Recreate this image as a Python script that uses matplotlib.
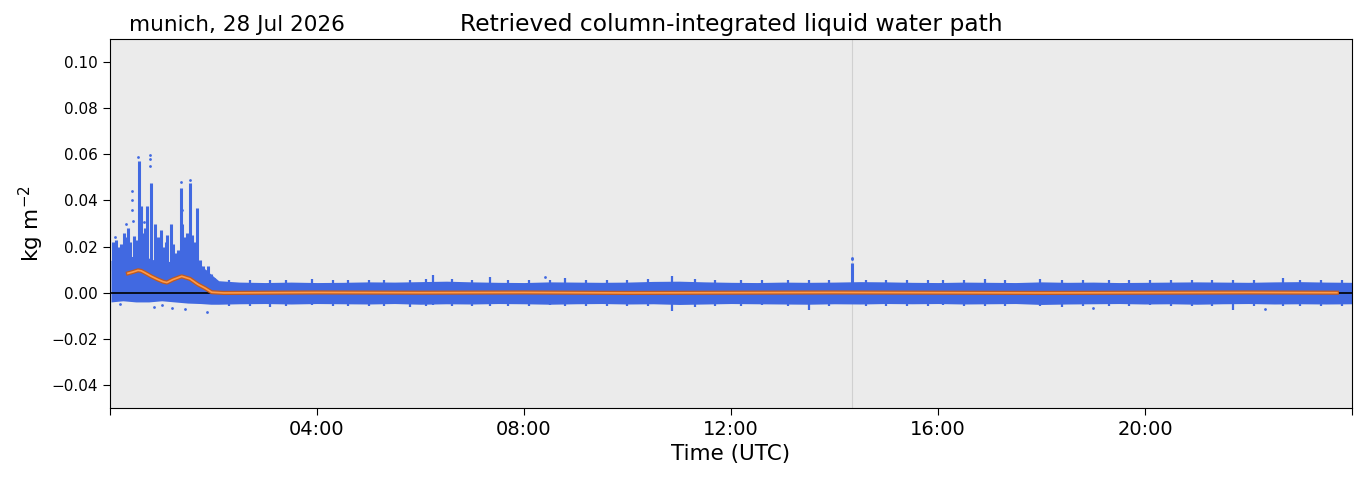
import matplotlib
matplotlib.use('Agg')
import matplotlib.pyplot as plt
import numpy as np

# dense core of the retrievals (hours UTC, kg m-2)
band_hours = [0.02, 0.25, 0.5, 0.75, 1.0, 1.25, 1.5, 1.75, 1.95, 2.1, 2.5, 3.0, 3.5, 4.0, 4.5,
              5.0, 5.5, 6.0, 6.5, 7.0, 7.5, 8.0, 8.5, 9.0, 9.5, 10.0, 10.5, 11.0, 11.5, 12.0,
              12.5, 13.0, 13.5, 14.0, 14.5, 15.0, 15.5, 16.0, 16.5, 17.0, 17.5, 18.0, 18.5,
              19.0, 19.5, 20.0, 20.5, 21.0, 21.5, 22.0, 22.5, 23.0, 23.5, 24.0]
band_hi = [0.014, 0.015, 0.016, 0.015, 0.013, 0.014, 0.015, 0.012, 0.008, 0.0052, 0.0046,
           0.0044, 0.0046, 0.0044, 0.0045, 0.0047, 0.0046, 0.0048, 0.0050, 0.0047, 0.0045,
           0.0044, 0.0047, 0.0046, 0.0045, 0.0046, 0.0049, 0.0050, 0.0047, 0.0045, 0.0044,
           0.0046, 0.0045, 0.0046, 0.0048, 0.0047, 0.0045, 0.0044, 0.0046, 0.0045, 0.0044,
           0.0047, 0.0045, 0.0046, 0.0044, 0.0045, 0.0046, 0.0047, 0.0046, 0.0045, 0.0047,
           0.0048, 0.0046, 0.0045]
band_lo = [-0.0040, -0.0035, -0.0040, -0.0040, -0.0035, -0.0040, -0.0045, -0.0047, -0.0050,
           -0.0050, -0.0048, -0.0047, -0.0049, -0.0047, -0.0048, -0.0049, -0.0047, -0.0050,
           -0.0048, -0.0049, -0.0047, -0.0048, -0.0050, -0.0048, -0.0047, -0.0049, -0.0048,
           -0.0051, -0.0049, -0.0047, -0.0048, -0.0049, -0.0050, -0.0048, -0.0049, -0.0047,
           -0.0048, -0.0047, -0.0049, -0.0048, -0.0047, -0.0051, -0.0049, -0.0048, -0.0047,
           -0.0049, -0.0048, -0.0050, -0.0048, -0.0047, -0.0049, -0.0048, -0.0049, -0.0048]

# columns of cloudy retrievals (hour, top value)
spike_hours = [0.058, 0.116, 0.16, 0.213, 0.27, 0.30, 0.348, 0.39, 0.464, 0.50, 0.551, 0.60,
               0.64, 0.671, 0.715, 0.80, 0.863, 0.90, 0.928, 0.986, 1.043, 1.08, 1.111, 1.179,
               1.22, 1.256, 1.314, 1.372, 1.40, 1.44, 1.482, 1.546, 1.585, 1.63, 1.675, 1.739,
               1.797, 1.85, 1.894, 1.95, 2.01, 14.34]
spike_top = [0.022, 0.023, 0.020, 0.021, 0.026, 0.024, 0.028, 0.022, 0.0245, 0.023, 0.057,
             0.0375, 0.026, 0.028, 0.0375, 0.0477, 0.030, 0.022, 0.024, 0.027, 0.020, 0.022,
             0.025, 0.030, 0.021, 0.017, 0.0187, 0.0455, 0.0296, 0.024, 0.026, 0.0477, 0.025,
             0.022, 0.0368, 0.0143, 0.0114, 0.010, 0.0114, 0.008, 0.0064, 0.013]
spike_base = [0.010, 0.010, 0.010, 0.010, 0.012, 0.012, 0.012, 0.012, 0.012, 0.012, 0.012,
              0.012, 0.012, 0.012, 0.012, 0.012, 0.012, 0.012, 0.012, 0.012, 0.010, 0.010,
              0.010, 0.010, 0.010, 0.010, 0.010, 0.012, 0.012, 0.012, 0.012, 0.012, 0.012,
              0.012, 0.012, 0.010, 0.008, 0.006, 0.006, 0.004, 0.004, 0.004]

# small excursions along the edges of the band
bump_hours = [2.3, 2.7, 3.1, 3.4, 3.9, 4.3, 4.6, 5.0, 5.3, 5.8, 6.1, 6.24, 6.6, 7.0, 7.34,
              7.7, 8.1, 8.5, 8.8, 9.2, 9.6, 10.0, 10.4, 10.86, 11.3, 11.7, 12.2, 12.6, 13.1,
              13.5, 13.9, 14.6, 15.0, 15.4, 15.8, 16.1, 16.5, 16.9, 17.3, 17.97, 18.4, 18.8,
              19.3, 19.7, 20.1, 20.5, 20.9, 21.3, 21.7, 22.1, 22.67, 23.0, 23.4, 23.8]
bump_hi = [0.0056, 0.0053, 0.0055, 0.0054, 0.0058, 0.0054, 0.0055, 0.0053, 0.0056, 0.0054,
           0.0060, 0.0078, 0.0058, 0.0056, 0.0070, 0.0054, 0.0056, 0.0055, 0.0065, 0.0054,
           0.0055, 0.0053, 0.0058, 0.0074, 0.0060, 0.0055, 0.0056, 0.0054, 0.0054, 0.0055,
           0.0053, 0.0056, 0.0054, 0.0057, 0.0053, 0.0055, 0.0054, 0.0059, 0.0053, 0.0058,
           0.0054, 0.0055, 0.0056, 0.0053, 0.0055, 0.0054, 0.0057, 0.0054, 0.0055, 0.0053,
           0.0062, 0.0055, 0.0054, 0.0056]
bump_lo = [-0.0058, -0.0056, -0.0060, -0.0057, -0.0055, -0.0059, -0.0056, -0.0058, -0.0057,
           -0.0060, -0.0056, -0.0055, -0.0058, -0.0057, -0.0059, -0.0056, -0.0058, -0.0055,
           -0.0057, -0.0059, -0.0056, -0.0058, -0.0057, -0.0078, -0.0060, -0.0056, -0.0058,
           -0.0055, -0.0057, -0.0075, -0.0056, -0.0059, -0.0057, -0.0056, -0.0058, -0.0055,
           -0.0057, -0.0059, -0.0056, -0.0058, -0.0060, -0.0057, -0.0056, -0.0058, -0.0055,
           -0.0057, -0.0059, -0.0056, -0.0074, -0.0057, -0.0058, -0.0056, -0.0059, -0.0057]

# isolated points
dot_hours = [0.425, 0.425, 0.425, 0.44, 0.779, 0.779, 0.779, 0.30, 0.66, 1.40, 1.372, 1.546,
             0.54, 0.10, 0.85, 1.20, 1.45, 1.874, 1.0, 0.2, 14.34, 14.34, 22.32, 8.4, 19.0]
dot_vals = [0.044, 0.040, 0.036, 0.031, 0.0598, 0.0578, 0.055, 0.030, 0.0305, 0.036, 0.048,
            0.049, 0.059, 0.024, -0.006, -0.0065, -0.007, -0.0085, -0.0055, -0.005, 0.0152,
            0.0145, -0.0070, 0.0068, -0.0068]

# running mean
mean_hours = [0.348, 0.444, 0.541, 0.60, 0.671, 0.798, 0.928, 1.024, 1.10, 1.217, 1.386,
              1.546, 1.70, 1.836, 1.965, 2.2, 4.0, 6.0, 8.0, 10.0, 12.0, 14.0, 16.0, 18.0,
              20.0, 22.0, 23.71]
mean_vals = [0.0084, 0.0090, 0.0097, 0.0095, 0.0087, 0.0071, 0.0057, 0.0048, 0.0044, 0.0057,
             0.0071, 0.0060, 0.0036, 0.0020, 0.0002, -0.0001, 0.0001, 0.0, 0.0001, -0.0001,
             0.0, 0.0001, 0.0, -0.0001, 0.0, 0.0001, 0.0]

tick_hours = [0, 4, 8, 12, 16, 20, 24]
tick_labels = ['', '04:00', '08:00', '12:00', '16:00', '20:00', '']

blue = 'royalblue'
fig = plt.figure(figsize=(13.63, 4.78), dpi=100)
ax = fig.add_axes([0.0807, 0.1464, 0.9112, 0.772])
ax.set_facecolor('#ebebeb')

ax.axvline(14.34, color='#d0d0d0', lw=0.8, zorder=1)
ax.fill_between(band_hours, band_lo, band_hi, color=blue, lw=0, zorder=2)
ax.vlines(spike_hours, spike_base, spike_top, color=blue, lw=2.2, zorder=2)
ax.vlines(bump_hours, 0, bump_hi, color=blue, lw=1.6, zorder=2)
ax.vlines(bump_hours, bump_lo, 0, color=blue, lw=1.6, zorder=2)
ax.scatter(dot_hours, dot_vals, s=4, color=blue, lw=0, zorder=2)
ax.axhline(0, color='black', lw=1.2, zorder=3)
ax.plot(mean_hours, mean_vals, color='#c05a20', lw=3, zorder=4)
ax.plot(mean_hours, mean_vals, color='#ff9a48', lw=1.2, zorder=5)

ax.set_xlim(0, 24)
ax.set_ylim(-0.05, 0.11)
ax.set_xticks(tick_hours)
ax.set_xticklabels(tick_labels, fontsize=14)
ax.tick_params(axis='y', labelsize=11)
ax.tick_params(length=5)
ax.set_xlabel('Time (UTC)', fontsize=15.5)
ax.set_ylabel('kg m$^{-2}$', fontsize=15.5)
ax.set_title('Retrieved column-integrated liquid water path', fontsize=16.8)
ax.text(0.015, 1.0225, 'munich, 28 Jul 2026', transform=ax.transAxes, fontsize=15.5,
        ha='left', va='baseline')

fig.savefig('out.png', dpi=100)
